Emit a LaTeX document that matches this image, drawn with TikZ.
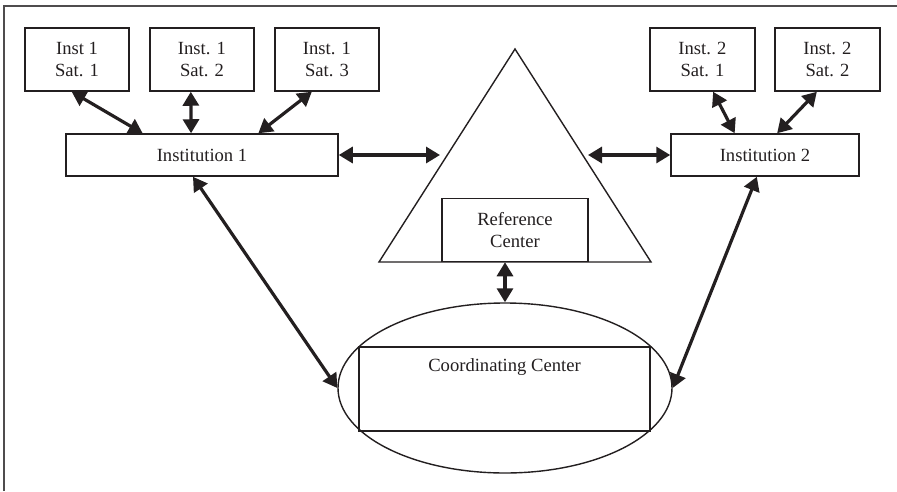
\documentclass[tikz,border=0pt]{standalone}
\usepackage{fontspec}
\setmainfont{Liberation Serif}
\usetikzlibrary{arrows.meta,shapes.geometric,calc}
\definecolor{ink}{HTML}{231F20}
\begin{document}
\begin{tikzpicture}[x=1pt,y=-1pt,
  txt/.style={font=\fontsize{18.6}{21.5}\selectfont, text=ink},
  box/.style={draw=ink, line width=1.5pt, rectangle, inner sep=0pt, align=center, txt},
  conn/.style={draw=ink, line width=3.2pt, {Triangle[length=14pt,width=16pt]}-{Triangle[length=14pt,width=16pt]}}
]
\useasboundingbox (0,0) rectangle (897,491);
% frame
\draw[line width=1.6pt, color=ink!80] (4,491) -- (4,6) -- (897,6);

% satellite boxes
\node[box, minimum width=104pt, minimum height=63pt] (s11) at (77,59.5) {Inst 1\\Sat. 1};
\node[box, minimum width=104pt, minimum height=63pt] (s12) at (202,59.5) {Inst. 1\\Sat. 2};
\node[box, minimum width=104pt, minimum height=63pt] (s13) at (327,59.5) {Inst. 1\\Sat. 3};
\node[box, minimum width=105pt, minimum height=63pt] (s21) at (702.5,59.5) {Inst. 2\\Sat. 1};
\node[box, minimum width=105pt, minimum height=63pt] (s22) at (827.5,59.5) {Inst. 2\\Sat. 2};

% institutions
\node[box, minimum width=272pt, minimum height=42pt] (i1) at (202,155) {Institution 1};
\node[box, minimum width=188pt, minimum height=42pt] (i2) at (765,155) {Institution 2};

% triangle
\coordinate (apex) at (515,49);
\coordinate (bl) at (379,262);
\coordinate (br) at (651,262);
\draw[ink, line width=1.4pt, line join=miter] (apex) -- (bl) -- (br) -- cycle;
\coordinate (tl) at (440,155);
\coordinate (tr) at (588,155);

% reference center
\node[box, minimum width=146pt, minimum height=63pt, fill=white] (ref) at (515,230) {Reference\\Center};

% ellipse and coordinating center
\node[draw=ink, line width=1.4pt, ellipse, inner sep=0pt, minimum width=334pt, minimum height=170pt] (ell) at (505,388) {};
\node[draw=ink, line width=1.4pt, rectangle, inner sep=0pt, minimum width=291pt, minimum height=84pt] (cc) at (504.5,389) {};
\node[txt] (cct) at (504.5,367) {Coordinating Center};

% connectors
\draw[conn] ($(s11.south west)!0.45!(s11.south east)$) -- ($(i1.north west)!0.283!(i1.north east)$);
\draw[conn] ($(s12.south west)!0.394!(s12.south east)$) -- ($(i1.north west)!0.46!(i1.north east)$);
\draw[conn] ($(s13.south west)!0.356!(s13.south east)$) -- ($(i1.north west)!0.706!(i1.north east)$);
\draw[conn] ($(s21.south west)!0.6!(s21.south east)$) -- ($(i2.north west)!0.34!(i2.north east)$);
\draw[conn] ($(s22.south west)!0.4!(s22.south east)$) -- ($(i2.north west)!0.564!(i2.north east)$);
\draw[conn] (i1.east) -- (tl);
\draw[conn] (tr) -- (i2.west);
\draw[conn] (ref.south -| ell.north) -- (ell.north);
\draw[conn] ($(i1.south west)!0.467!(i1.south east)$) -- (ell.west);
\draw[conn] ($(i2.south west)!0.457!(i2.south east)$) -- (ell.east);
\end{tikzpicture}
\end{document}
